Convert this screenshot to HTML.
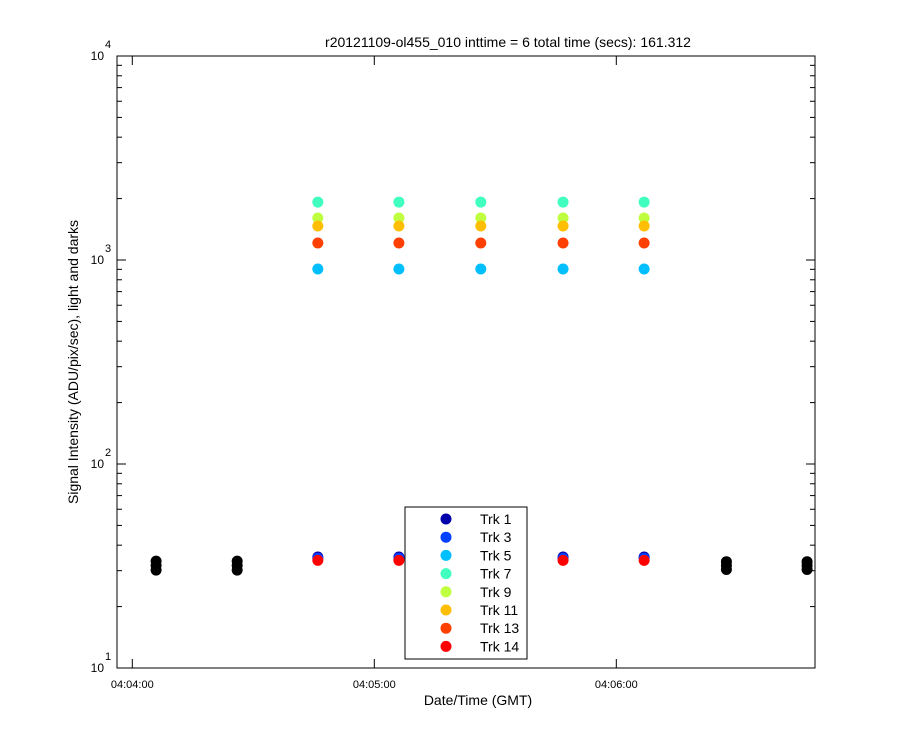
<!DOCTYPE html>
<html><head><meta charset="utf-8"><style>body{margin:0;background:#fff}svg{font-family:"Liberation Sans",sans-serif}</style></head>
<body>
<svg id="c" width="900" height="750"></svg>
<script>
const darkTimes=[5.9,26.0,147.3,167.3];
const darkHigh=[33.4,33.4,33.2,33.2];
const darkLow=[30.2,30.2,30.4,30.4];
const lightTimes=[46.0,66.1,86.4,106.8,126.9];
const trkNames=["Trk 1","Trk 3","Trk 5","Trk 7","Trk 9","Trk 11","Trk 13","Trk 14"];
const trkColors=["#0000aa","#0040ff","#00bfff","#40ffbf","#bfff40","#ffbf00","#ff4000","#ff0000"];
const trkValues=[35,34.5,903,1923,1607,1468,1211,33.7];
const xTickSecs=[0,60,120];
const xTickLabels=["04:04:00","04:05:00","04:06:00"];
const yDecades=[1,2,3,4];

const svg=document.getElementById('c');
const NS='http://www.w3.org/2000/svg';
const L=117,R=815,T=56,B=668;
const x=s=>132.3+s*(242/60);
const y=v=>B-(Math.log10(v)-1)*(B-T)/3;
function mk(t,a,p){const e=document.createElementNS(NS,t);for(const k in a)e.setAttribute(k,a[k]);(p||svg).appendChild(e);return e;}

const frame=mk('rect',{x:L,y:T,width:R-L,height:B-T,fill:'none',stroke:'#000'});



for(let d=1;d<=3;d++){for(let m=1;m<=9;m++){const v=m*Math.pow(10,d);const yy=y(v);const len=m===1?9:5;
mk('line',{x1:L,x2:L+len,y1:yy,y2:yy,stroke:'#000'});mk('line',{x1:R,x2:R-len,y1:yy,y2:yy,stroke:'#000'});}}
yDecades.forEach(d=>{const yy=y(Math.pow(10,d));
const t=mk('text',{x:L-13,y:yy+4,'font-size':12,'text-anchor':'end'});t.textContent='10';


const e=mk('text',{x:L-12,y:yy-8,'font-size':11});e.textContent=String(d);});
xTickSecs.forEach((s,i)=>{const xx=x(s);
mk('line',{x1:xx,x2:xx,y1:B,y2:B-9,stroke:'#000'});mk('line',{x1:xx,x2:xx,y1:T,y2:T+9,stroke:'#000'});
const t=mk('text',{x:xx,y:B+20,'font-size':11,'text-anchor':'middle'});t.textContent=xTickLabels[i];

});

const title=mk('text',{x:508,y:47,'font-size':14,'text-anchor':'middle'});title.textContent='r20121109-ol455_010 inttime = 6 total time (secs): 161.312';


const xl=mk('text',{x:478,y:705,'font-size':14,'text-anchor':'middle'});xl.textContent='Date/Time (GMT)';


const yl=mk('text',{x:0,y:0,'font-size':14,'text-anchor':'middle',transform:'translate(78,362) rotate(-90)'});yl.textContent='Signal Intensity (ADU/pix/sec), light and darks';



darkTimes.forEach((s,i)=>{[darkHigh[i],(darkHigh[i]+darkLow[i])/2,darkLow[i]].forEach(v=>{
const c=mk('circle',{cx:x(s),cy:y(v),r:5.5,fill:'#000'});

});});
trkValues.forEach((v,k)=>{lightTimes.forEach(s=>{
const c=mk('circle',{cx:x(s),cy:y(v),r:5.5,fill:trkColors[k]});

});});

const lg=mk('g',{});


mk('rect',{x:405,y:507,width:122,height:152,fill:'#fff',stroke:'#000'},lg);
trkNames.forEach((n,k)=>{const yy=519+k*18.2;
const c=mk('circle',{cx:446,cy:yy,r:5.5,fill:trkColors[k]},lg);


const t=mk('text',{x:480,y:yy+5,'font-size':14},lg);t.textContent=n;});
</script>
</body></html>
